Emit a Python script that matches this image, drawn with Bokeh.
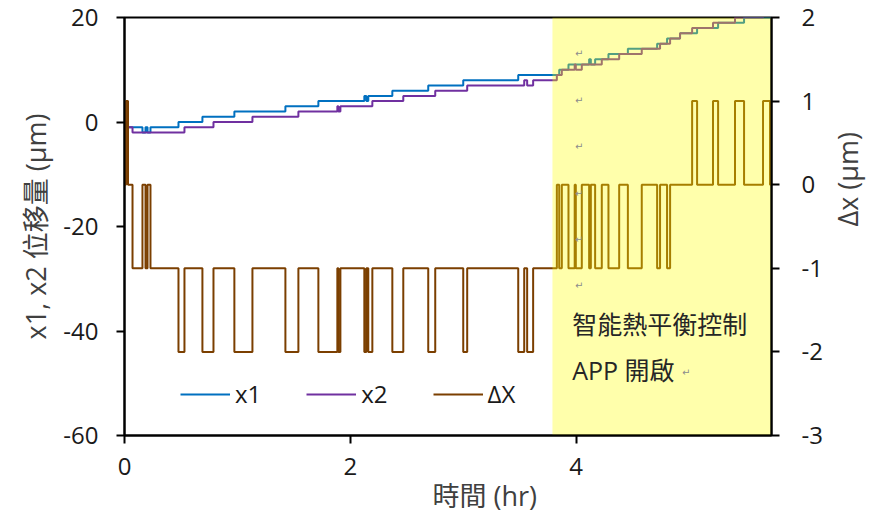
import math
from bokeh.plotting import figure
from bokeh.models import (Range1d, LinearAxis, SingleIntervalTicker, Title,
                          Legend, LegendItem, ColumnDataSource, PrintfTickFormatter)
from bokeh.embed import file_html
from bokeh.resources import INLINE
from bokeh.core.properties import value

# ---------------- data ----------------
time_hr = [0.000, 0.013, 0.031, 0.071, 0.159, 0.186, 0.204, 0.230, 0.478, 0.531,
           0.690, 0.788, 0.973, 1.133, 1.425, 1.540, 1.717, 1.885, 1.894, 1.912,
           2.124, 2.142, 2.159, 2.195, 2.372, 2.469, 2.690, 2.752, 3.000, 3.035,
           3.487, 3.540, 3.566, 3.619, 3.829, 3.850, 3.873, 3.932, 3.987, 3.997,
           4.050, 4.115, 4.130, 4.168, 4.227, 4.286, 4.381, 4.458, 4.581, 4.717,
           4.743, 4.805, 4.832, 4.920, 5.027, 5.071, 5.212, 5.257, 5.407, 5.487,
           5.655, 5.717, 5.730]
x1_um = [0, -1, -1, -1, -2, -1, -2, -1, 0, 0,
         1, 1, 2, 2, 3, 3, 4, 4, 4, 4,
         5, 4, 5, 5, 6, 6, 7, 7, 8, 8,
         9, 9, 9, 9, 9, 10, 10, 11, 11, 11,
         11, 12, 11, 12, 12, 13, 13, 14, 14, 15,
         15, 16, 16, 17, 17, 18, 18, 19, 19, 20,
         20, 21, 21]
x2_um = [0, 0, -1, -2, -2, -2, -2, -2, -2, -1,
         -1, 0, 0, 1, 1, 2, 2, 3, 2, 3,
         3, 3, 3, 4, 4, 5, 5, 6, 6, 7,
         7, 8, 7, 8, 9, 9, 10, 10, 11, 10,
         11, 11, 11, 11, 12, 12, 13, 13, 14, 14,
         15, 15, 16, 17, 18, 18, 19, 19, 20, 20,
         21, 21, 21]
dx_um = [0, 1, 0, -1, 0, -1, 0, -1, -2, -1,
         -2, -1, -2, -1, -2, -1, -2, -1, -2, -1,
         -2, -1, -2, -1, -2, -1, -2, -1, -2, -1,
         -2, -1, -2, -1, 0, -1, 0, -1, 0, -1,
         0, -1, 0, -1, 0, -1, 0, -1, 0, -1,
         0, -1, 0, 0, 1, 0, 1, 0, 1, 0,
         1, 0, 0]

app_on_hr = 3.79          # start of highlighted period (APP on)
time_end_hr = 5.73

x_tick_step = 2
left_range = (-60, 20)
left_tick_step = 20
right_range = (-3, 2)
right_tick_step = 1

series_names = ["x1", "x2", "ΔX"]
series_colors = ["#0070C0", "#7030A0", "#7B3F00"]

note_lines = ["智能熱平衡控制", "APP 開啟"]
note_x = [3.965, 3.965]
note_y = [-38.6, -47.4]
mark_x = [4.027, 4.027, 4.027, 4.027, 4.027, 4.027, 4.975]
mark_y = [13.1, 4.1, -4.7, -13.7, -22.5, -31.3, -48.0]

FONT = "'Open Sans', 'Noto Sans CJK TC'"

# ---------------- figure ----------------
p = figure(width=889, height=513, output_backend="svg", toolbar_location=None,
           x_range=Range1d(0, time_end_hr), y_range=Range1d(*left_range),
           min_border_left=124, min_border_right=118, min_border_top=17,
           min_border_bottom=78)
p.extra_y_ranges = {"dx": Range1d(*right_range)}
p.grid.visible = False
p.outline_line_color = "#000000"
p.outline_line_width = 2
p.background_fill_color = "white"
p.border_fill_color = "white"

src = ColumnDataSource(dict(t=time_hr, x1=x1_um, x2=x2_um, dx=dx_um))

r1 = p.step("t", "x1", source=src, mode="after", line_color=series_colors[0], line_width=2)
r2 = p.step("t", "x2", source=src, mode="after", line_color=series_colors[1], line_width=2)
r3 = p.step("t", "dx", source=src, mode="after", line_color=series_colors[2], line_width=2,
            y_range_name="dx")

# semi-transparent yellow box on top of the lines
p.quad(left=[app_on_hr], right=[time_end_hr], bottom=[left_range[0]], top=[left_range[1]],
       fill_color="#FFFF00", fill_alpha=0.33, line_color=None)

p.text(x=note_x, y=note_y, text=note_lines, text_font=value(FONT),
       text_font_size="25px", text_color="#262626", text_baseline="middle",
       text_align="left")
p.text(x=mark_x, y=mark_y, text=["↵"] * len(mark_x), text_font=value("DejaVu Sans"),
       text_font_size="10px", text_color="#8c8c8c", text_baseline="middle",
       text_align="center")

# ---------------- axes ----------------
def style_axis(ax):
    ax.axis_line_color = "#000000"
    ax.axis_line_width = 2
    ax.major_tick_line_color = "#000000"
    ax.major_tick_line_width = 2
    ax.major_tick_out = 8
    ax.major_tick_in = 0
    ax.minor_tick_line_color = None
    ax.formatter = PrintfTickFormatter(format="%d")
    ax.major_label_text_font = FONT
    ax.major_label_text_font_size = "24px"
    ax.major_label_text_color = "#1a1a1a"
    ax.axis_label_text_font = FONT
    ax.axis_label_text_font_size = "27px"
    ax.axis_label_text_font_style = "normal"
    ax.axis_label_text_color = "#404040"

xa = p.xaxis[0]
xa.ticker = SingleIntervalTicker(interval=x_tick_step)
style_axis(xa)
xa.major_label_standoff = 14

ya = p.yaxis[0]
ya.ticker = SingleIntervalTicker(interval=left_tick_step)
style_axis(ya)
ya.major_label_standoff = 18
ya.axis_label = "x1, x2 位移量 (µm)"
ya.axis_label_standoff = 6

ra = LinearAxis(y_range_name="dx", ticker=SingleIntervalTicker(interval=right_tick_step))
style_axis(ra)
ra.major_label_standoff = 22
ra.axis_label = "Δx (µm)"
ra.axis_label_standoff = 22
ra.axis_label_orientation = math.pi / 2
p.add_layout(ra, "right")

p.add_layout(Title(text="時間 (hr)", align="left", offset=308, standoff=-6,
                   text_font=FONT, text_font_size="27px", text_font_style="normal",
                   text_color="#404040"), "below")

legend = Legend(items=[LegendItem(label=series_names[0], renderers=[r1]),
                       LegendItem(label=series_names[1], renderers=[r2]),
                       LegendItem(label=series_names[2], renderers=[r3])],
                location=(56, 25), orientation="horizontal",
                border_line_color=None, background_fill_alpha=0,
                padding=0, margin=0, spacing=45, glyph_width=50, glyph_height=20,
                label_standoff=5, label_text_font=FONT, label_text_font_size="24px",
                label_text_color="#1a1a1a")
p.add_layout(legend, "center")

open("out.html", "w").write(file_html(p, INLINE))
